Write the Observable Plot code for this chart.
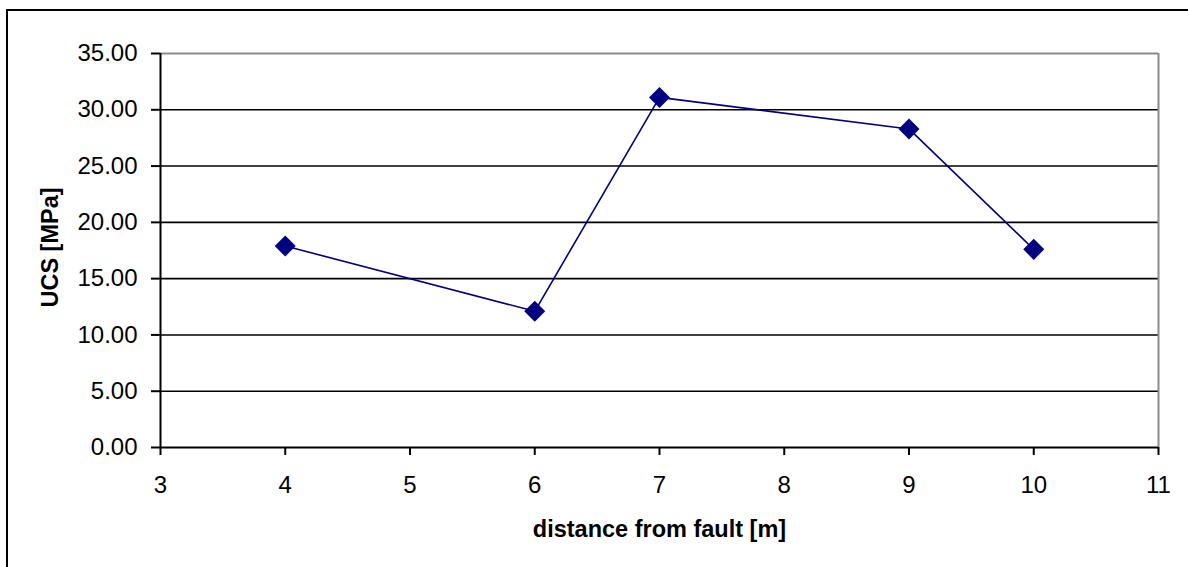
<!DOCTYPE html>
<html>
<head>
<meta charset="utf-8">
<script src="https://cdn.jsdelivr.net/npm/d3@7"></script>
<script src="https://cdn.jsdelivr.net/npm/@observablehq/plot@0.6"></script>
<style>
  html, body { margin: 0; padding: 0; background: #fff; overflow: hidden; }
  #wrap { position: relative; width: 1188px; height: 567px; }
  #frame { position: absolute; left: 6px; top: 9px; width: 1400px; height: 800px;
           border-left: 2px solid #000; border-top: 2px solid #000; pointer-events: none; }
</style>
</head>
<body>
<div id="wrap"><div id="frame"></div></div>
<script>
const distance = [4, 6, 7, 9, 10];
const ucs = [17.9, 12.1, 31.1, 28.3, 17.6];
const yTicks = [0, 5, 10, 15, 20, 25, 30, 35];
const xTicks = [3, 4, 5, 6, 7, 8, 9, 10, 11];
const gridVals = [5, 10, 15, 20, 25, 30];
const xTitle = "distance from fault [m]";
const yTitle = "UCS [MPa]";

const data = distance.map((d, i) => ({x: d, y: ucs[i]}));
const font = "Arial, 'Liberation Sans', sans-serif";

const chart = Plot.plot({
  width: 1188,
  height: 567,
  marginLeft: 160,
  marginRight: 30,
  marginTop: 53,
  marginBottom: 120,
  style: {fontFamily: font, color: "#000", background: "transparent", overflow: "visible"},
  x: {domain: [3, 11]},
  y: {domain: [0, 35]},
  marks: [
    Plot.ruleY(gridVals, {stroke: "#000", strokeWidth: 1.6}),
    Plot.ruleY([35], {stroke: "#8c8c8c", strokeWidth: 2}),
    Plot.ruleX([11], {stroke: "#8c8c8c", strokeWidth: 2}),
    Plot.ruleY([0], {stroke: "#000", strokeWidth: 2}),
    Plot.ruleX([3], {stroke: "#000", strokeWidth: 2}),
    Plot.axisY({ticks: yTicks, tickFormat: d3.format(".2f"), tickSize: 9, tickPadding: 14,
      fontSize: 24, strokeWidth: 2, stroke: "#000", label: null}),
    Plot.axisX({ticks: xTicks, tickFormat: d => String(d), tickSize: 8, tickPadding: 20,
      fontSize: 24, strokeWidth: 2, stroke: "#000", label: null}),
    Plot.line(data, {x: "x", y: "y", stroke: "#000080", strokeWidth: 1.6}),
    Plot.dot(data, {x: "x", y: "y", symbol: "square", r: 8.4, rotate: 45, fill: "#000080", stroke: "none"}),
    Plot.text([xTitle], {frameAnchor: "bottom", text: d => d, dy: 82, lineAnchor: "middle",
      fontSize: 23.5, fontWeight: "bold", fill: "#000"}),
    Plot.text([yTitle], {frameAnchor: "left", text: d => d, dx: -110, dy: -3, rotate: -90,
      textAnchor: "middle", lineAnchor: "middle", fontSize: 23.5, fontWeight: "bold", fill: "#000"})
  ]
});
chart.style.position = "absolute";
chart.style.left = "0px";
chart.style.top = "0px";
document.getElementById("wrap").appendChild(chart);
</script>
</body>
</html>
